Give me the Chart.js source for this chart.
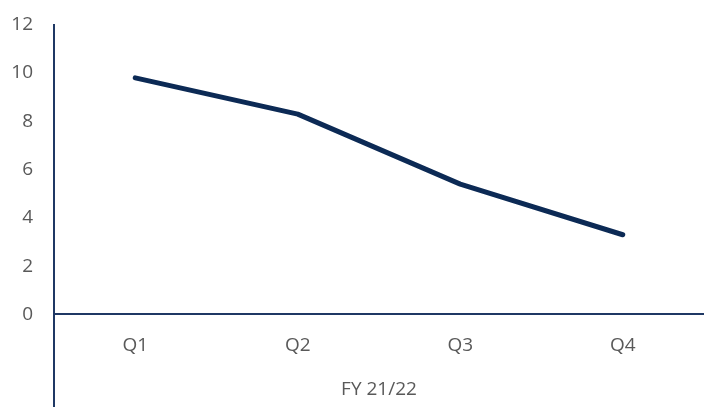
<!DOCTYPE html>
<html>
<head>
<meta charset="utf-8">
<script src="https://cdn.jsdelivr.net/npm/chart.js@4/dist/chart.umd.min.js"></script>
<style>
html,body{margin:0;padding:0;background:#fff;}
#wrap{width:704px;height:407px;position:relative;}
</style>
</head>
<body>
<div id="wrap"><canvas id="c"></canvas></div>
<script>
const categories = ["Q1", "Q2", "Q3", "Q4"];
const values = [9.8, 8.3, 5.4, 3.3];
const yTicks = [0, 2, 4, 6, 8, 10, 12];
const xTitle = "FY 21/22";

const axisColor = "#1f3864";
const extendAxis = {
  id: "extendAxis",
  afterDraw(chart) {
    const ctx = chart.ctx;
    const x = chart.chartArea.left;
    ctx.save();
    ctx.strokeStyle = axisColor;
    ctx.lineWidth = 2;
    ctx.beginPath();
    ctx.moveTo(x, chart.chartArea.bottom);
    ctx.lineTo(x, chart.height);
    ctx.stroke();
    ctx.restore();
  }
};

const font = { family: "Open Sans", size: 19 };
const yFont = { family: "Open Sans", size: 19, lineHeight: 0.4 };

new Chart(document.getElementById("c"), {
  type: "line",
  data: {
    labels: categories,
    datasets: [{
      data: values,
      borderColor: "#0c2a55",
      borderWidth: 5,
      pointRadius: 0,
      tension: 0,
      borderCapStyle: "round",
      borderJoinStyle: "round"
    }]
  },
  options: {
    responsive: true,
    maintainAspectRatio: false,
    animation: false,
    layout: { padding: { top: 18, right: 0, bottom: 6, left: 0 } },
    plugins: { legend: { display: false }, tooltip: { enabled: false } },
    scales: {
      x: {
        offset: true,
        grid: { display: false, drawTicks: false },
        border: { display: true, color: axisColor, width: 2 },
        ticks: { color: "#595959", font: font, padding: 20 },
        title: { display: true, text: xTitle, color: "#595959", font: font, padding: { top: 1, bottom: 0 } }
      },
      y: {
        min: 0, max: 12,
        afterBuildTicks(scale) { scale.ticks = yTicks.map(v => ({ value: v })); },
        afterFit(scale) { scale.width = 54; },
        grid: { display: false, drawTicks: false },
        border: { display: true, color: axisColor, width: 2 },
        ticks: { color: "#595959", font: yFont, padding: 21 }
      }
    }
  },
  plugins: [extendAxis]
});
</script>
</body>
</html>
